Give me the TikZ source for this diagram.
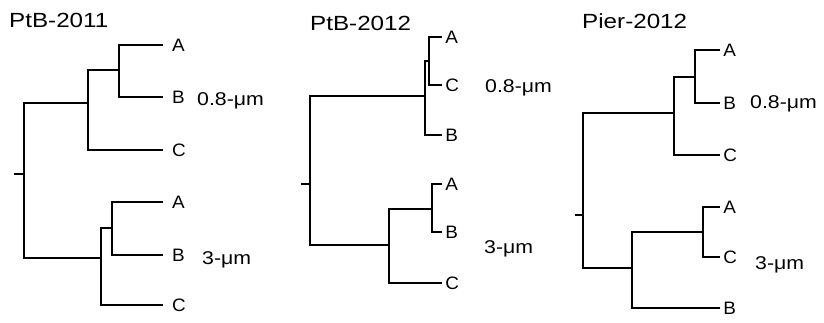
\documentclass[tikz,border=0pt]{standalone}
\usepackage{fontspec}
\setmainfont{Liberation Sans}
\usepackage{tikz}

\begin{document}
\begin{tikzpicture}[x=1pt, y=-1pt, br/.style={line width=2.9pt},
  leaf/.style={anchor=west, inner ysep=0pt, inner xsep=3pt, xscale=1.05, transform shape, font=\fontsize{18}{20}\selectfont},
  size/.style={anchor=base west, inner sep=0pt, xscale=1.15, transform shape, font=\fontsize{18.5}{20}\selectfont},
  title/.style={anchor=base west, inner sep=0pt, xscale=1.18, transform shape, font=\fontsize{20.5}{24}\selectfont}]
	\useasboundingbox (0,0) rectangle (824,322);
	% PtB-2011
	\node[title] (ttl1) at (9,27) {PtB-2011};
	\coordinate (t1) at (14,174);
	\coordinate (r1) at (24,174);
	\coordinate (u1) at (88,103);
	\coordinate (ui1) at (119,70);
	\coordinate (l1) at (101,258);
	\coordinate (li1) at (112,228);
	\node[leaf, inner xsep=8.5pt] (a1) at (163,45) {A};
	\node[leaf, inner xsep=8.5pt] (b1) at (163,97) {B};
	\node[leaf, inner xsep=8.5pt] (c1) at (163,150) {C};
	\node[leaf, inner xsep=8.5pt] (a1x) at (163,202) {A};
	\node[leaf, inner xsep=8.5pt] (b1x) at (163,255) {B};
	\node[leaf, inner xsep=8.5pt] (c1x) at (163,305) {C};
	\draw[br] (t1) -- (r1);
	\draw[br] (r1) |- (u1);
	\draw[br] (r1) |- (l1);
	\draw[br] (u1) |- (ui1);
	\draw[br] (u1) |- (c1.west);
	\draw[br] (ui1) |- (a1.west);
	\draw[br] (ui1) |- (b1.west);
	\draw[br] (l1) |- (li1);
	\draw[br] (l1) |- (c1x.west);
	\draw[br] (li1) |- (a1x.west);
	\draw[br] (li1) |- (b1x.west);
	\node[size] (s1) at (197,105) {0.8-μm};
	\node[size] (s1x) at (202,264) {3-μm};
	% PtB-2012
	\node[title] (ttl2) at (310,30) {PtB-2012};
	\coordinate (t2) at (301,184);
	\coordinate (r2) at (310,184);
	\coordinate (u2) at (425,96);
	\coordinate (ui2) at (429,61);
	\coordinate (l2) at (389,245);
	\coordinate (li2) at (432,209);
	\node[leaf] (a2) at (442,37) {A};
	\node[leaf] (c2) at (442,85) {C};
	\node[leaf] (b2) at (442,135) {B};
	\node[leaf] (a2x) at (442,184) {A};
	\node[leaf] (b2x) at (442,232) {B};
	\node[leaf] (c2x) at (442,283) {C};
	\draw[br] (t2) -- (r2);
	\draw[br] (r2) |- (u2);
	\draw[br] (r2) |- (l2);
	\draw[br] (u2) |- (ui2);
	\draw[br] (u2) |- (b2.west);
	\draw[br] (ui2) |- (a2.west);
	\draw[br] (ui2) |- (c2.west);
	\draw[br] (l2) |- (li2);
	\draw[br] (l2) |- (c2x.west);
	\draw[br] (li2) |- (a2x.west);
	\draw[br] (li2) |- (b2x.west);
	\node[size] (s2) at (485,92) {0.8-μm};
	\node[size] (s2x) at (484,253) {3-μm};
	% Pier-2012
	\node[title] (ttl3) at (582,28) {Pier-2012};
	\coordinate (t3) at (575,215);
	\coordinate (r3) at (583,215);
	\coordinate (u3) at (674,113);
	\coordinate (ui3) at (695,77);
	\coordinate (l3) at (632,268);
	\coordinate (li3) at (703,232);
	\node[leaf] (a3) at (720,50) {A};
	\node[leaf] (b3) at (720,103) {B};
	\node[leaf] (c3) at (720,155) {C};
	\node[leaf] (a3x) at (720,207) {A};
	\node[leaf] (c3x) at (720,257) {C};
	\node[leaf] (b3x) at (720,308) {B};
	\draw[br] (t3) -- (r3);
	\draw[br] (r3) |- (u3);
	\draw[br] (r3) |- (l3);
	\draw[br] (u3) |- (ui3);
	\draw[br] (u3) |- (c3.west);
	\draw[br] (ui3) |- (a3.west);
	\draw[br] (ui3) |- (b3.west);
	\draw[br] (l3) |- (li3);
	\draw[br] (l3) |- (b3x.west);
	\draw[br] (li3) |- (a3x.west);
	\draw[br] (li3) |- (c3x.west);
	\node[size] (s3) at (750,108) {0.8-μm};
	\node[size] (s3x) at (755,269) {3-μm};
\end{tikzpicture}
\end{document}
